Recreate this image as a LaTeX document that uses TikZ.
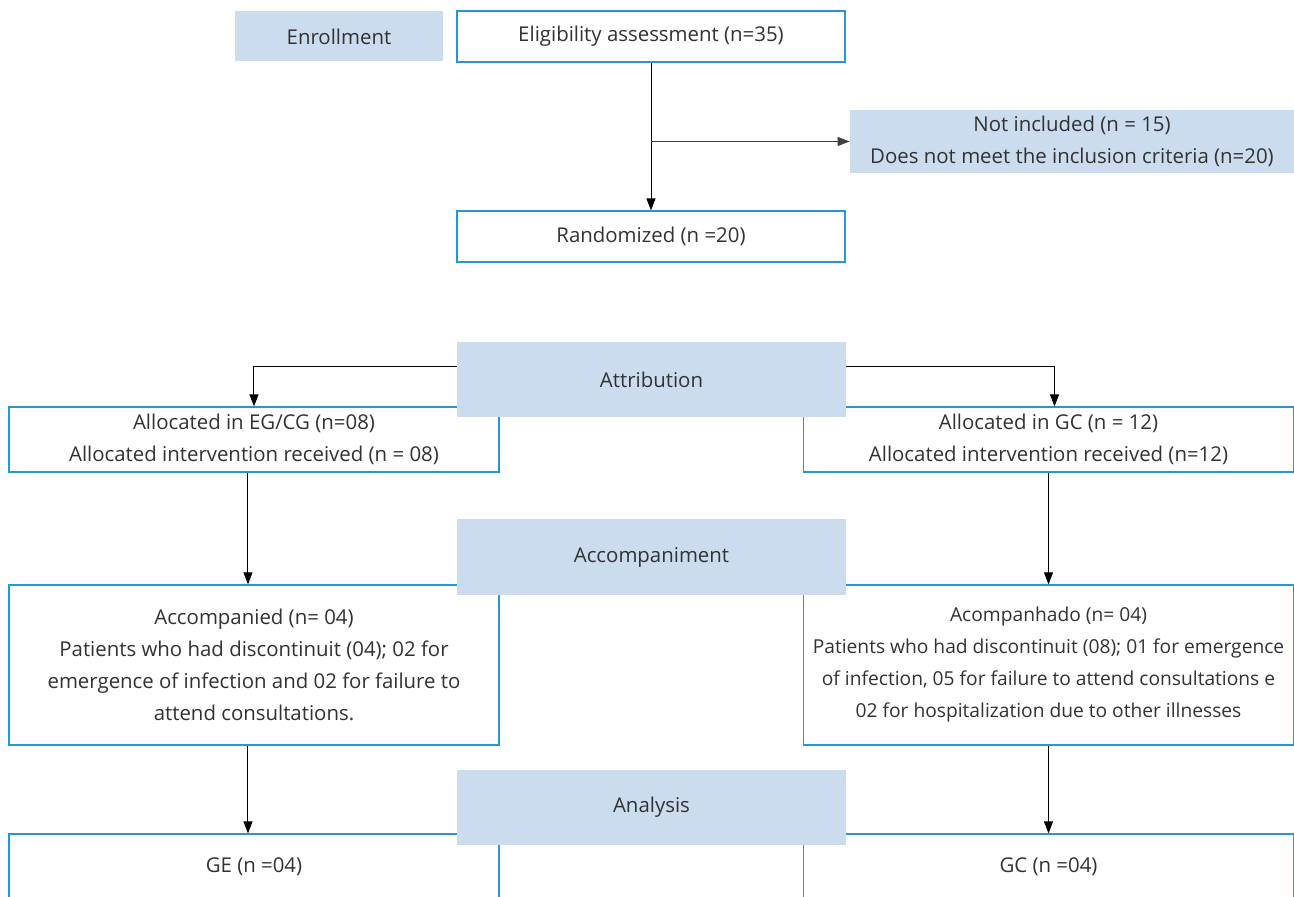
\documentclass[tikz,border=0pt]{standalone}
\usepackage{fontspec}
\setmainfont{Open Sans}
\usepackage{tikz}
\usetikzlibrary{arrows.meta,positioning,calc}
\definecolor{boxblue}{RGB}{40,150,210}
\definecolor{fillblue}{RGB}{203,220,238}
\definecolor{txtgray}{RGB}{50,50,50}

\begin{document}
\begin{tikzpicture}[node distance=2cm,on grid,
    >={Triangle[length=6pt,width=4.5pt]},
    whitebox/.style={draw=boxblue,line width=0.6pt,fill=white,text=txtgray,align=center,
      inner sep=0pt,font=\fontsize{10.2}{16}\selectfont},
    bluebox/.style={fill=fillblue,text=txtgray,align=center,inner sep=0pt,
      font=\fontsize{10.2}{16}\selectfont},
    arr/.style={->,line width=0.5pt,black}]
   \useasboundingbox (-325.5pt,18.25pt) rectangle (321.5pt,-430.25pt);
   % white boxes
   \node[whitebox,minimum width=194pt,minimum height=25.5pt] (elig) at (0,0) {Eligibility assessment (n=35)};
   \node[whitebox,minimum width=194pt,minimum height=25.5pt] (rand) [below=100pt of elig] {Randomized (n =20)};
   \node[bluebox,minimum width=104pt,minimum height=25pt] (enroll) [left=156pt of elig] {Enrollment};
   \node[bluebox,minimum width=222pt,minimum height=31.5pt] (notinc) [below right=52.5pt and 210.5pt of elig]
     {Not included (n = 15)\\Does not meet the inclusion criteria (n=20)};
   \coordinate (attribpos) at ($(rand)+(0.25pt,-71.5pt)$);
   \node[whitebox,minimum width=245pt,minimum height=32.5pt] (allocL) at ($(attribpos)+(-198.75pt,-30pt)$)
     {Allocated in EG/CG (n=08)\\Allocated intervention received (n = 08)};
   \node[whitebox,minimum width=245pt,minimum height=32.5pt] (allocR) at ($(attribpos)+(198.5pt,-30pt)$)
     {Allocated in GC (n = 12)\\Allocated intervention received (n=12)};
   \node[whitebox,minimum width=245pt,minimum height=80pt] (accL) [below=112.75pt of allocL]
     {Accompanied (n= 04)\\Patients who had discontinuit (04); 02 for\\emergence of infection and 02 for failure to\\attend consultations.};
   \node[whitebox,minimum width=245pt,minimum height=80pt,font=\fontsize{9.6}{16}\selectfont] (accR) [below=112.75pt of allocR]
     {Acompanhado (n= 04)\\Patients who had discontinuit (08); 01 for emergence\\of infection, 05 for failure to attend consultations e\\02 for hospitalization due to other illnesses};
   \node[whitebox,minimum width=245pt,minimum height=33pt] (geL) [below=101pt of accL] {GE (n =04)};
   \node[whitebox,minimum width=245pt,minimum height=33pt] (gcR) [below=101pt of accR] {GC (n =04)};
   % stage labels
   \node[bluebox,minimum width=194.5pt,minimum height=37.5pt] (attrib) at (attribpos) {Attribution};
   \node[bluebox,minimum width=194.5pt,minimum height=38pt] (accomp) [below=88.75pt of attrib] {Accompaniment};
   \node[bluebox,minimum width=194.5pt,minimum height=37.5pt] (analysis) [below=125pt of accomp] {Analysis};

   \draw[arr] (elig) -- (rand);
   \draw[arr,black!75] (elig.south |- notinc.west) -- (notinc.west);
   \draw[arr] ([yshift=6.25pt]attrib.west) -| (allocL.north);
   \draw[arr] ([yshift=6.25pt]attrib.east) -| ([xshift=3pt]allocR.north);
   \draw[arr] ([xshift=-3pt]allocL.south) -- ([xshift=-3pt]accL.north);
   \draw[arr] (allocR.south) -- (accR.north);
   \draw[arr] ([xshift=-3pt]accL.south) -- ([xshift=-3pt]geL.north);
   \draw[arr] (accR.south) -- (gcR.north);
\end{tikzpicture}
\end{document}
